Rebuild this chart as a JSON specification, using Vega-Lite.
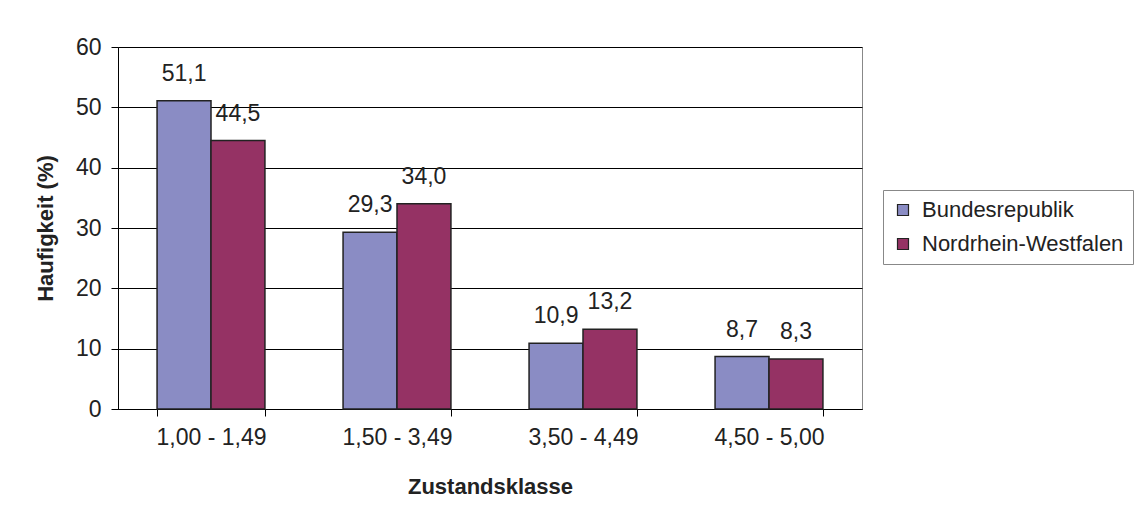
{
  "$schema": "https://vega.github.io/schema/vega-lite/v6.json",
  "width": 744,
  "height": 362,
  "autosize": "none",
  "padding": {"left": 118, "top": 47, "right": 276, "bottom": 109},
  "background": "white",
  "data": {
    "values": [
      {"klasse": "1,00 - 1,49", "gebiet": "Bundesrepublik", "wert": 51.1},
      {"klasse": "1,00 - 1,49", "gebiet": "Nordrhein-Westfalen", "wert": 44.5},
      {"klasse": "1,50 - 3,49", "gebiet": "Bundesrepublik", "wert": 29.3},
      {"klasse": "1,50 - 3,49", "gebiet": "Nordrhein-Westfalen", "wert": 34.0},
      {"klasse": "3,50 - 4,49", "gebiet": "Bundesrepublik", "wert": 10.9},
      {"klasse": "3,50 - 4,49", "gebiet": "Nordrhein-Westfalen", "wert": 13.2},
      {"klasse": "4,50 - 5,00", "gebiet": "Bundesrepublik", "wert": 8.7},
      {"klasse": "4,50 - 5,00", "gebiet": "Nordrhein-Westfalen", "wert": 8.3}
    ]
  },
  "encoding": {
    "x": {
      "field": "klasse", "type": "nominal", "sort": null,
      "scale": {"paddingInner": 0.42, "paddingOuter": 0.21},
      "axis": {
        "title": "Zustandsklasse", "labelAngle": 0, "tickBand": "extent",
        "domainColor": "black", "tickColor": "black", "tickSize": 7,
        "labelFontSize": 23, "labelPadding": 10, "labelColor": "#222",
        "titleFontSize": 22, "titleFontWeight": "bold", "titlePadding": 27, "titleColor": "#222"
      }
    },
    "xOffset": {"field": "gebiet", "type": "nominal", "sort": null, "scale": {"paddingInner": 0, "paddingOuter": 0}},
    "y": {
      "field": "wert", "type": "quantitative",
      "scale": {"domain": [0, 60], "nice": false},
      "axis": {
        "title": "Haufigkeit (%)", "values": [0, 10, 20, 30, 40, 50, 60],
        "format": "d", "grid": true, "gridColor": "black", "gridOpacity": 1,
        "domainColor": "black", "tickColor": "black", "tickSize": 7,
        "labelFontSize": 23, "labelPadding": 10, "labelColor": "#222",
        "titleFontSize": 22, "titleFontWeight": "bold", "titlePadding": 18, "titleColor": "#222"
      }
    }
  },
  "layer": [
    {
      "mark": {"type": "bar", "stroke": "#222", "strokeWidth": 1.5},
      "encoding": {
        "color": {
          "field": "gebiet", "type": "nominal", "sort": null,
          "scale": {"domain": ["Bundesrepublik", "Nordrhein-Westfalen"], "range": ["#8a8cc4", "#953264"]},
          "legend": {
            "title": null, "orient": "none", "legendX": 765, "legendY": 143,
            "symbolType": "square", "symbolSize": 121, "symbolStrokeColor": "#222", "symbolStrokeWidth": 1.2,
            "labelFontSize": 22, "labelColor": "#222", "labelOffset": 8,
            "strokeColor": "#888", "padding": 9, "rowPadding": 12, "fillColor": "white",
            "labelLimit": 300
          }
        }
      }
    },
    {
      "mark": {"type": "text", "fontSize": 23, "dy": -27, "color": "#222"},
      "encoding": {
        "text": {"field": "wert", "type": "quantitative", "format": ".1f"}
      }
    }
  ],
  "config": {
    "font": "Liberation Sans",
    "locale": {"number": {"decimal": ",", "thousands": ".", "grouping": [3], "currency": ["", " €"]}},
    "view": {"stroke": "#888", "strokeWidth": 1}
  }
}
